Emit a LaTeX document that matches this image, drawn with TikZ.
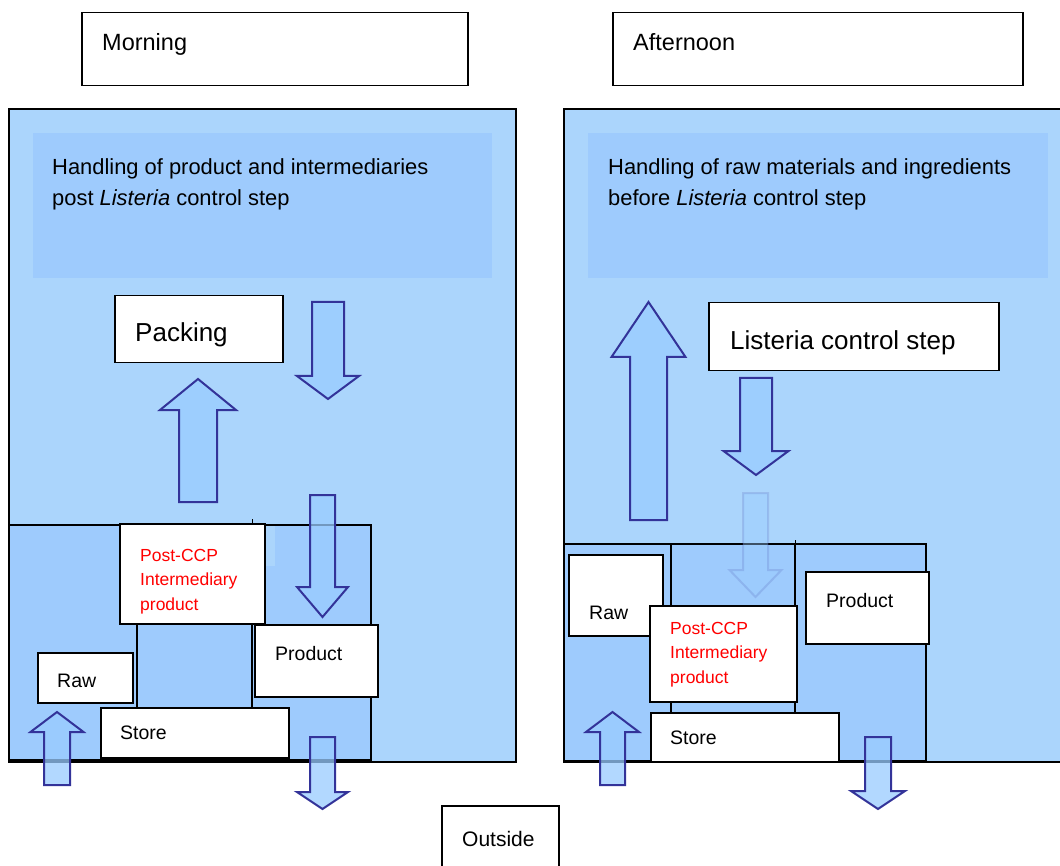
\documentclass[tikz,border=0pt]{standalone}
\usepackage{fontspec}
\setmainfont{Liberation Sans}
\definecolor{panel}{HTML}{ABD5FC}
\definecolor{inner}{HTML}{9ECBFD}
\definecolor{arrfill}{HTML}{99CCFF}
\definecolor{arrline}{HTML}{333399}
\definecolor{redtxt}{HTML}{FF0000}
\newcommand\blkarrow[7][blockarrow]{%
  \draw[#1] (#2-#7,#5) -- (#2-#7,#4) -- (#2-#6,#4) -- (#2,#3) -- (#2+#6,#4) -- (#2+#7,#4) -- (#2+#7,#5) -- cycle;}
\begin{document}
\begin{tikzpicture}[x=1pt,y=-1pt,
  box/.style={draw=black, line width=1.5pt, fill=white, inner sep=0pt, anchor=north west},
  panelbox/.style={draw=black, line width=1.5pt, fill=panel},
  lbl/.style={anchor=base west, inner sep=0pt, font=\fontsize{19.5}{23}\selectfont},
  redlbl/.style={anchor=base west, inner sep=0pt, text=redtxt, font=\fontsize{17.5}{24.5}\selectfont},
  blockarrow/.style={draw=arrline, line width=2pt, fill=arrfill, fill opacity=0.75, line join=miter},
  fadedarrow/.style={draw=arrline, draw opacity=0.15, line width=2pt, fill=arrfill, fill opacity=0.4, line join=miter}]
\useasboundingbox (0,0) rectangle (1060,866);
\fill[white] (0,0) rectangle (1060,866);

% title boxes
\node[box, minimum width=386, minimum height=73] (morningbox) at (81,12) {};
\node[lbl, font=\fontsize{23.5}{28}\selectfont] (morning) at (102,51) {Morning};
\node[box, minimum width=410, minimum height=73] (afternoonbox) at (612,12) {};
\node[lbl, font=\fontsize{23.5}{28}\selectfont] (afternoon) at (633,51) {Afternoon};

% left panel
\draw[panelbox] (9,109) rectangle (516,762);
\fill[inner] (33,133) rectangle (492,278);
\node[anchor=base west, inner sep=0pt, align=left, font=\fontsize{21.9}{31}\selectfont] (lhead) at (52,206)
  {Handling of product and intermediaries\\post \textit{Listeria} control step};

% right panel
\fill[panel] (564,109) rectangle (1070,762);
\draw[black, line width=1.5pt] (1070,109) -- (564,109) -- (564,762) -- (1070,762);
\fill[inner] (588,133) rectangle (1048,278);
\node[anchor=base west, inner sep=0pt, align=left, font=\fontsize{21.9}{31}\selectfont] (rhead) at (608,206)
  {Handling of raw materials and ingredients\\before \textit{Listeria} control step};

% left upper part
\node[box, minimum width=168, minimum height=67] (packing) at (114,295) {};
\node[lbl, font=\fontsize{26}{30}\selectfont] (packingtxt) at (135,342) {Packing};
\blkarrow{328}{399}{376}{302}{31}{16}
\blkarrow{198}{379}{410}{502}{38}{19}

% left storage area
\fill[inner] (9,525) rectangle (371,760);
\fill[panel] (130,519) rectangle (275,566);
\draw[black, line width=1.5pt] (9,525) rectangle (371,760);
\draw[black, line width=1.5pt] (137,525) rectangle (252,760);
\draw[black, line width=1pt] (252,519) -- (252,525);
\node[box, minimum width=145, minimum height=100] (lpost) at (119,523) {};
\node[redlbl, align=left] (lposttxt) at (140,610) {Post-CCP\\Intermediary\\product};
\node[box, minimum width=123, minimum height=72] (lproduct) at (254,624) {};
\node[lbl] (lproducttxt) at (275,660) {Product};
\node[box, minimum width=95, minimum height=50] (lraw) at (37,652) {};
\node[lbl] (lrawtxt) at (57,687) {Raw};
\node[box, minimum width=188, minimum height=50] (lstore) at (100,707) {};
\node[lbl] (lstoretxt) at (120,739) {Store};
\blkarrow{322.5}{617}{587}{495}{25.5}{12.5}
\blkarrow{57}{712}{732}{785}{26.5}{13}
\blkarrow{322.5}{809}{792}{737}{25.5}{12.5}

% right upper part
\blkarrow{648.5}{302}{357}{520}{37}{18.5}
\node[box, minimum width=290, minimum height=68] (lcs) at (708,302) {};
\node[lbl, font=\fontsize{26}{30}\selectfont] (lcstxt) at (730,350) {Listeria control step};
\blkarrow{756}{475}{451}{378}{32.5}{16}

% right storage area
\fill[inner] (564,544) rectangle (926,761);
\draw[black, line width=1.5pt] (564,544) rectangle (926,761);
\draw[black, line width=1.5pt] (671,544) rectangle (795,761);
\draw[black, line width=1pt] (795,540) -- (795,544);
\blkarrow[fadedarrow]{755.5}{597}{570}{493}{26}{12.5}
\node[box, minimum width=94, minimum height=81] (rraw) at (568,554) {};
\node[lbl] (rrawtxt) at (589,619) {Raw};
\node[box, minimum width=147, minimum height=96] (rpost) at (649,605) {};
\node[redlbl, align=left] (rposttxt) at (670,683) {Post-CCP\\Intermediary\\product};
\node[box, minimum width=123, minimum height=72] (rproduct) at (805,571) {};
\node[lbl] (rproducttxt) at (826,607) {Product};
\node[box, minimum width=188, minimum height=49] (rstore) at (650,712) {};
\node[lbl] (rstoretxt) at (670,744) {Store};
\blkarrow{612.5}{712}{732}{785}{26.5}{12.5}
\blkarrow{878}{809}{791}{737}{27}{13}

% outside
\node[box, minimum width=117, minimum height=70] (outsidebox) at (441,805) {};
\node[lbl, font=\fontsize{21}{25}\selectfont] (outside) at (462,846) {Outside};
\end{tikzpicture}
\end{document}
